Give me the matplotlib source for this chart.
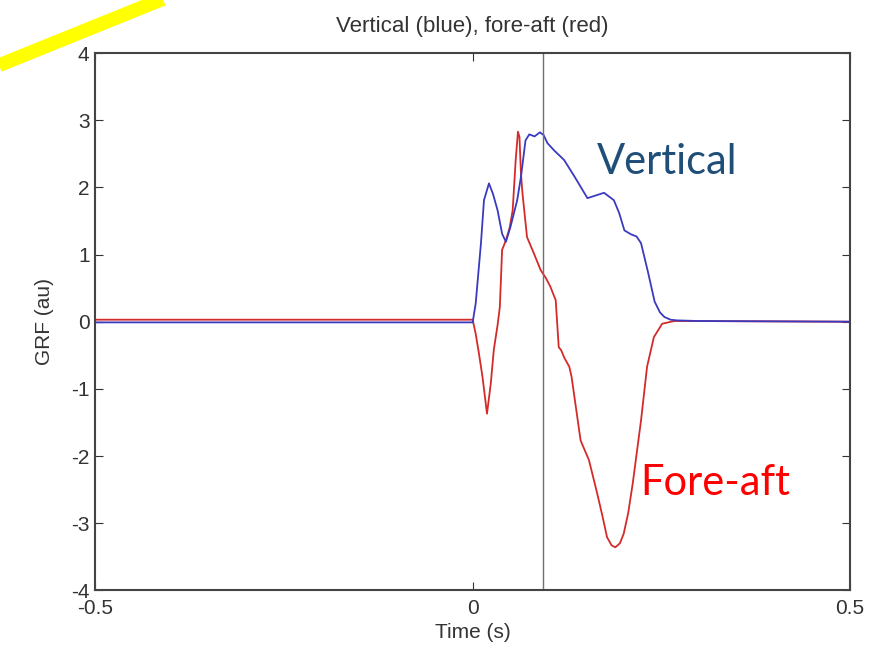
import numpy as np
from matplotlib import pyplot as plt
from matplotlib.lines import Line2D

# time (s) and GRF (au)
t_vert = [-0.5, -0.3, 0.0, 0.004, 0.011, 0.015, 0.0216, 0.027, 0.033, 0.039, 0.044, 0.050,
          0.059, 0.064, 0.070, 0.075, 0.082, 0.089, 0.094, 0.099, 0.108, 0.121, 0.135,
          0.152, 0.163, 0.174, 0.187, 0.194, 0.201, 0.210, 0.217, 0.223, 0.232, 0.241,
          0.248, 0.254, 0.262, 0.270, 0.300, 0.5]
grf_vert = [-0.01, -0.01, -0.01, 0.27, 1.17, 1.81, 2.06, 1.9, 1.66, 1.31, 1.19, 1.41,
            1.81, 2.16, 2.70, 2.79, 2.76, 2.82, 2.78, 2.66, 2.55, 2.41, 2.16,
            1.84, 1.88, 1.92, 1.81, 1.62, 1.36, 1.30, 1.27, 1.17, 0.75, 0.30,
            0.14, 0.07, 0.03, 0.02, 0.01, 0.0]

t_fa = [-0.5, -0.3, 0.0, 0.004, 0.008, 0.013, 0.019, 0.024, 0.028, 0.033, 0.036, 0.039,
        0.044, 0.049, 0.053, 0.057, 0.060, 0.062, 0.064, 0.066, 0.072, 0.081, 0.090,
        0.097, 0.103, 0.110, 0.114, 0.117, 0.122, 0.128, 0.131, 0.143, 0.154, 0.165,
        0.172, 0.178, 0.184, 0.189, 0.195, 0.200, 0.206, 0.212, 0.223, 0.231, 0.240,
        0.251, 0.267, 0.300, 0.5]
grf_fa = [0.03, 0.03, 0.03, -0.18, -0.45, -0.82, -1.37, -0.92, -0.42, -0.05, 0.22, 1.07,
          1.21, 1.4, 1.66, 2.41, 2.83, 2.75, 2.2, 1.91, 1.26, 1.02, 0.77,
          0.65, 0.52, 0.32, -0.38, -0.42, -0.55, -0.67, -0.82, -1.77, -2.06, -2.56,
          -2.9, -3.21, -3.33, -3.36, -3.3, -3.16, -2.85, -2.41, -1.47, -0.67, -0.23,
          -0.03, 0.01, 0.01, 0.0]

marker_time = 0.093
x_ticks = [-0.5, 0, 0.5]
y_ticks = [-4, -3, -2, -1, 0, 1, 2, 3, 4]

plt.rcParams['font.family'] = ['Liberation Sans', 'DejaVu Sans']
plt.rcParams['axes.unicode_minus'] = False

fig = plt.figure(figsize=(8.81, 6.64), dpi=100)
ax = fig.add_axes([0.108, 0.111, 0.857, 0.809])

ax.plot(t_fa, grf_fa, color='#d42a2a', lw=1.3)
ax.plot(t_vert, grf_vert, color='#3a3ac0', lw=1.3)
ax.axvline(marker_time, color='#707070', lw=1.0)

ax.set_xlim(-0.5, 0.5)
ax.set_ylim(-4, 4)
ax.set_xticks(x_ticks)
ax.set_xticklabels(['-0.5', '0', '0.5'])
ax.set_yticks(y_ticks)
ax.tick_params(direction='in', top=True, right=True, length=6, labelsize=15,
               colors='#333333', pad=4)
ax.tick_params(axis='x', pad=6)
for s in ax.spines.values():
    s.set_color('#444444')
    s.set_linewidth(1.5)

ax.set_title('Vertical (blue), fore-aft (red)', fontsize=16, color='#333333', pad=15)
ax.set_xlabel('Time (s)', fontsize=15, color='#333333', labelpad=4)
ax.set_ylabel('GRF (au)', fontsize=15, color='#333333', labelpad=12)

ax.text(0.165, 2.2, 'Vertical', color='#1f4e79', fontsize=30, family=['Lato', 'DejaVu Sans'])
ax.text(0.222, -2.58, 'Fore-aft', color='#ff0000', fontsize=30, family=['Lato', 'DejaVu Sans'])

# yellow highlighter stroke in the top-left corner
fig.add_artist(Line2D([-0.01, 0.195], [0.897, 1.007], transform=fig.transFigure,
                      color='#ffff00', lw=10, solid_capstyle='butt'))

fig.savefig('out.png', dpi=100)
